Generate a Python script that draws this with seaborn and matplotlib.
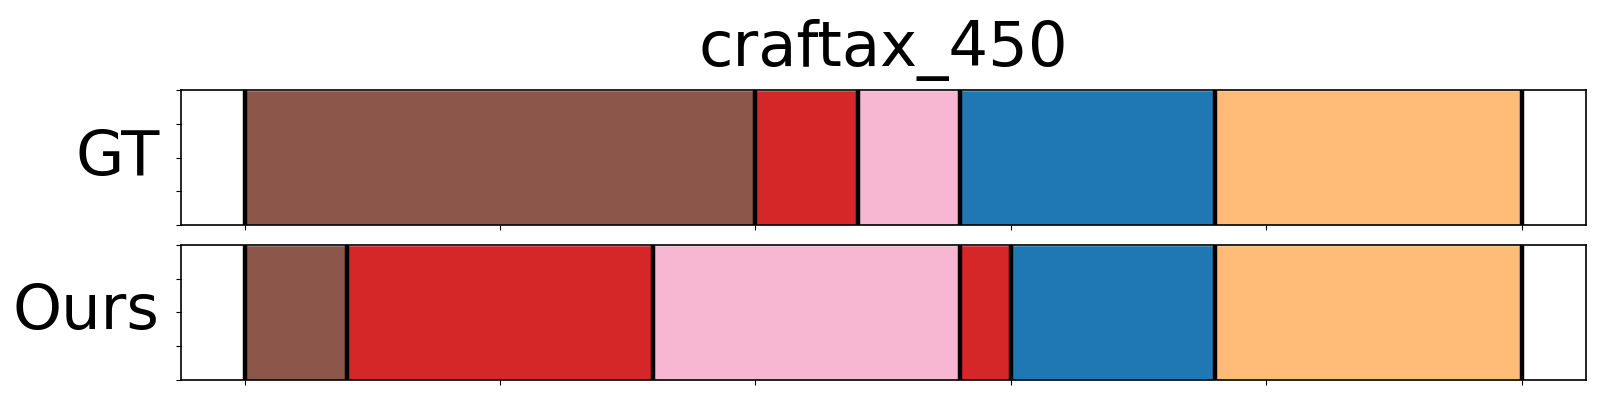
import numpy as np
import pandas as pd
import seaborn as sns
import matplotlib
matplotlib.use("Agg")
import matplotlib.pyplot as plt

# Data: segment boundaries (start, end) and colours for each row
title = "craftax_450"
rows = ["GT", "Ours"]

gt_starts = [0, 200, 240, 280, 380]
gt_ends = [200, 240, 280, 380, 500]
gt_colors = ["#8c564b", "#d62728", "#f7b6d2", "#1f77b4", "#ffbb78"]

ours_starts = [0, 40, 160, 280, 300, 380]
ours_ends = [40, 160, 280, 300, 380, 500]
ours_colors = ["#8c564b", "#d62728", "#f7b6d2", "#d62728", "#1f77b4", "#ffbb78"]

sns.set_style("white")
plt.rcParams['font.family'] = ['DejaVu Sans']
plt.rcParams.update({'text.color': 'black', 'axes.labelcolor': 'black',
                     'xtick.color': 'black', 'ytick.color': 'black'})

fig, axes = plt.subplots(2, 1, figsize=(16, 4), dpi=100)
fig.subplots_adjust(left=0.113, right=0.991, top=0.775, bottom=0.05, hspace=0.148)

segs = [(gt_starts, gt_ends, gt_colors), (ours_starts, ours_ends, ours_colors)]
for ax, name, (starts, ends, colors) in zip(axes, rows, segs):
    # overlapping bars from 0 to each segment end, longest drawn first
    df = pd.DataFrame({'seg': [str(i) for i in range(len(ends))], 'end': ends, 'row': 0})
    order = [str(i) for i in np.argsort(ends)[::-1]]
    pal = {str(i): c for i, c in enumerate(colors)}
    sns.barplot(data=df, x='end', y='row', hue='seg', hue_order=order, palette=pal,
                orient='h', dodge=False, width=1, saturation=1, legend=False, ax=ax)
    for b in sorted(set(starts + ends)):
        ax.axvline(b, color='black', lw=3.2)
    ax.set_xlim(-25, 525)
    ax.set_ylim(-0.5, 0.5)
    ax.set_xticks([0, 100, 200, 300, 400, 500])
    ax.set_xticklabels([])
    ax.set_yticks(np.linspace(-0.5, 0.5, 5))
    ax.set_yticklabels([])
    ax.tick_params(axis='both', length=3.5, width=0.8, color='black', left=True, bottom=True)
    ax.set_xlabel('')
    ax.set_ylabel(name, rotation=0, fontsize=45, ha='right', va='center', color='black')
    ax.yaxis.set_label_coords(-0.015, 0.5)
    for s in ax.spines.values():
        s.set_color('black')
        s.set_linewidth(1.2)

axes[0].set_title(title, fontsize=45, pad=17, color='black')

plt.savefig("out.png")
